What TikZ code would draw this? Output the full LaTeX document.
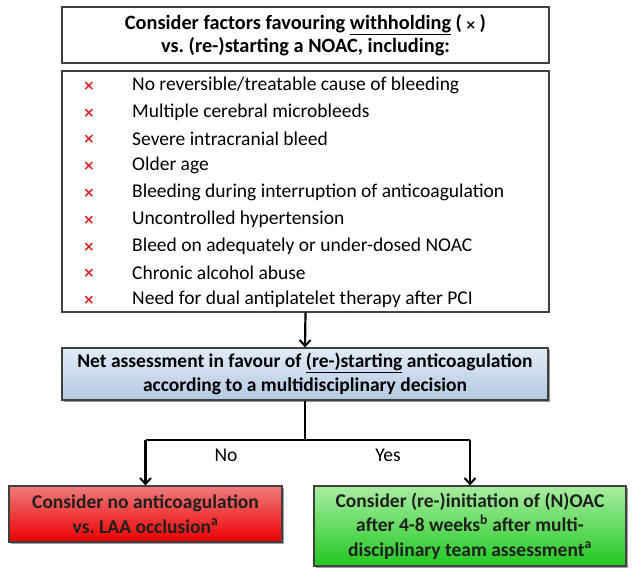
\documentclass[tikz,border=0pt]{standalone}
\usepackage{fontspec}
\setmainfont{Carlito}
\newfontfamily\crossfont{DejaVu Sans}
\usetikzlibrary{arrows.meta,shadows}
\definecolor{bordergray}{HTML}{404040}
\definecolor{bluetop}{HTML}{E2EBF5}
\definecolor{bluebot}{HTML}{B4C9E2}
\definecolor{redtop}{HTML}{F07A7A}
\definecolor{redbot}{HTML}{EE0000}
\definecolor{greentop}{HTML}{A8EDA0}
\definecolor{greenbot}{HTML}{22C822}
\definecolor{crossred}{HTML}{E02020}
\tikzset{
  plainbox/.style={draw=bordergray, line width=1.3pt, fill=white, inner sep=0pt, align=center},
  shadebox/.style={draw=bordergray, line width=1.1pt, inner sep=0pt, align=center,
    drop shadow={shadow xshift=2pt, shadow yshift=-2pt, opacity=0.55, fill=black!70}},
  itemtext/.style={anchor=west, inner sep=0pt, font=\fontsize{19.5}{22}\selectfont},
  crossmark/.style={inner sep=0pt, text=crossred, font=\crossfont\fontsize{14}{14}\selectfont\bfseries},
  titletext/.style={font=\fontsize{20.3}{23.5}\selectfont\bfseries},
  bluetext/.style={font=\fontsize{19.5}{23.5}\selectfont\bfseries},
  boxtext/.style={font=\fontsize{19.5}{24.5}\selectfont\bfseries, text=black!88},
  conn/.style={line width=2.2pt, black},
  arr/.style={conn, -{Straight Barb[length=6pt,width=11pt,line width=2pt]}},
  lbl/.style={inner sep=0pt, font=\fontsize{19.5}{22}\selectfont}
}
\begin{document}
\begin{tikzpicture}[x=1pt,y=-1pt]
\useasboundingbox (0,0) rectangle (633,573);
% top box
\node[plainbox, minimum width=487pt, minimum height=56pt, titletext] (top) at (305.5,35)
  {Consider factors favouring \underline{withholding} (\,{\crossfont\fontsize{13}{13}\selectfont\bfseries ×}\,)\\vs.\ (re-)starting a NOAC, including:};
% list box
\node[plainbox, minimum width=487pt, minimum height=241pt] (list) at (305.5,191.5) {};
\foreach \t [count=\i from 0] in {
  No reversible/treatable cause of bleeding,
  Multiple cerebral microbleeds,
  Severe intracranial bleed,
  Older age,
  Bleeding during interruption of anticoagulation,
  Uncontrolled hypertension,
  Bleed on adequately or under-dosed NOAC,
  Chronic alcohol abuse,
  Need for dual antiplatelet therapy after PCI}{
  \node[crossmark] (x\i) at (89,{86+26.8*\i}) {×};
  \node[itemtext] (t\i) at (132,{85+26.8*\i}) {\t};
}
% blue box
\node[shadebox, top color=bluetop, bottom color=bluebot, minimum width=486pt, minimum height=52pt, bluetext,
  drop shadow={shadow xshift=1.5pt, shadow yshift=-1.5pt, opacity=0.25, fill=black!50}] (blue) at (305,374)
  {Net assessment in favour of \underline{(re-)starting} anticoagulation\\according to a multidisciplinary decision};
% red box
\node[shadebox, top color=redtop, bottom color=redbot, minimum width=273pt, minimum height=56pt, boxtext] (red) at (145.5,514)
  {Consider no anticoagulation\\vs.\ LAA occlusion\textsuperscript{a}};
% green box
\node[shadebox, top color=greentop, bottom color=greenbot, minimum width=312pt, minimum height=80pt, boxtext] (green) at (470,526)
  {Consider (re-)initiation of (N)OAC\\after 4-8 weeks\textsuperscript{b} after multi-\\disciplinary team assessment\textsuperscript{a}};
% connectors
\coordinate (j) at (305,440);
\coordinate (jl) at (145.5,440);
\coordinate (jr) at (470,440);
\draw[arr] (list.south -| top.south) -- (blue.north);
\draw[conn] (blue.south) -- (j);
\draw[conn] (jl) -- (jr);
\draw[arr] (jl) -- (red.north);
\draw[arr] (jr) -- (green.north);
\node[lbl] (no) at (226,455) {No};
\node[lbl] (yes) at (388,455) {Yes};
\end{tikzpicture}
\end{document}
